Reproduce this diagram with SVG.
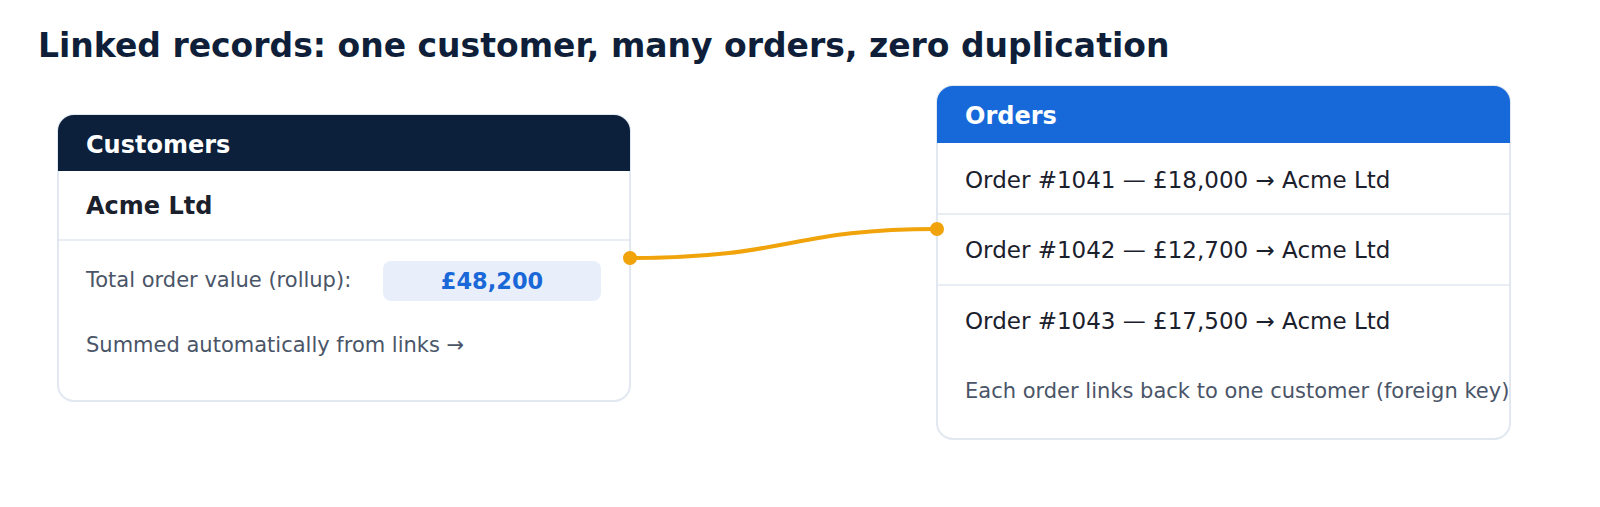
<svg xmlns="http://www.w3.org/2000/svg" width="1600" height="507" viewBox="0 0 1600 507">
<style>
text{font-family:"DejaVu Sans",sans-serif}
.card{fill:#fff;stroke:#e2e8f0;stroke-width:2}
.hdr{fill:#fff;font-weight:bold;font-size:24px}
.row{fill:#1a202c;font-size:23px}
.muted{fill:#4a5568;font-size:21px}
.div{stroke:#e2e8f0;stroke-width:1.5}
</style>
<rect width="1600" height="507" fill="#fff"/>
<text x="38" y="57" font-size="33" font-weight="bold" fill="#0f1f3a">Linked records: one customer, many orders, zero duplication</text>
<g id="customers">
<rect class="card" x="58" y="115" width="572" height="286" rx="16"/>
<path d="M74 115H614a16 16 0 0 1 16 16V171H58V131a16 16 0 0 1 16-16z" fill="#0c203b"/>
<text class="hdr" x="86" y="153">Customers</text>
<text x="86" y="214" font-size="24" font-weight="bold" fill="#1a202c">Acme Ltd</text>
<line class="div" x1="58" y1="240" x2="630" y2="240"/>
<text class="muted" x="86" y="287" font-size="22.5">Total order value (rollup):</text>
<rect x="383" y="261" width="218" height="40" rx="8" fill="#e8effa"/>
<text x="492" y="289" text-anchor="middle" font-size="22.5" font-weight="bold" fill="#1a68d8">£48,200</text>
<text class="muted" x="86" y="352">Summed automatically from links →</text>
</g>
<g id="orders">
<rect class="card" x="937" y="86" width="573" height="353" rx="16"/>
<path d="M953 86H1494a16 16 0 0 1 16 16V143H937V102a16 16 0 0 1 16-16z" fill="#1769d9"/>
<text class="hdr" x="965" y="124">Orders</text>
<text class="row" x="965" y="188">Order #1041 — £18,000 → Acme Ltd</text>
<line class="div" x1="937" y1="214" x2="1510" y2="214"/>
<text class="row" x="965" y="258">Order #1042 — £12,700 → Acme Ltd</text>
<line class="div" x1="937" y1="285" x2="1510" y2="285"/>
<text class="row" x="965" y="329">Order #1043 — £17,500 → Acme Ltd</text>
<text class="muted" x="965" y="398">Each order links back to one customer (foreign key)</text>
</g>
<g id="connectors">
<path d="M630 258C790 258 790 229 937 229" fill="none" stroke="#f0a30a" stroke-width="4"/>
<circle cx="630" cy="258" r="7" fill="#f0a30a"/>
<circle cx="937" cy="229" r="7" fill="#f0a30a"/>
</g>
</svg>
